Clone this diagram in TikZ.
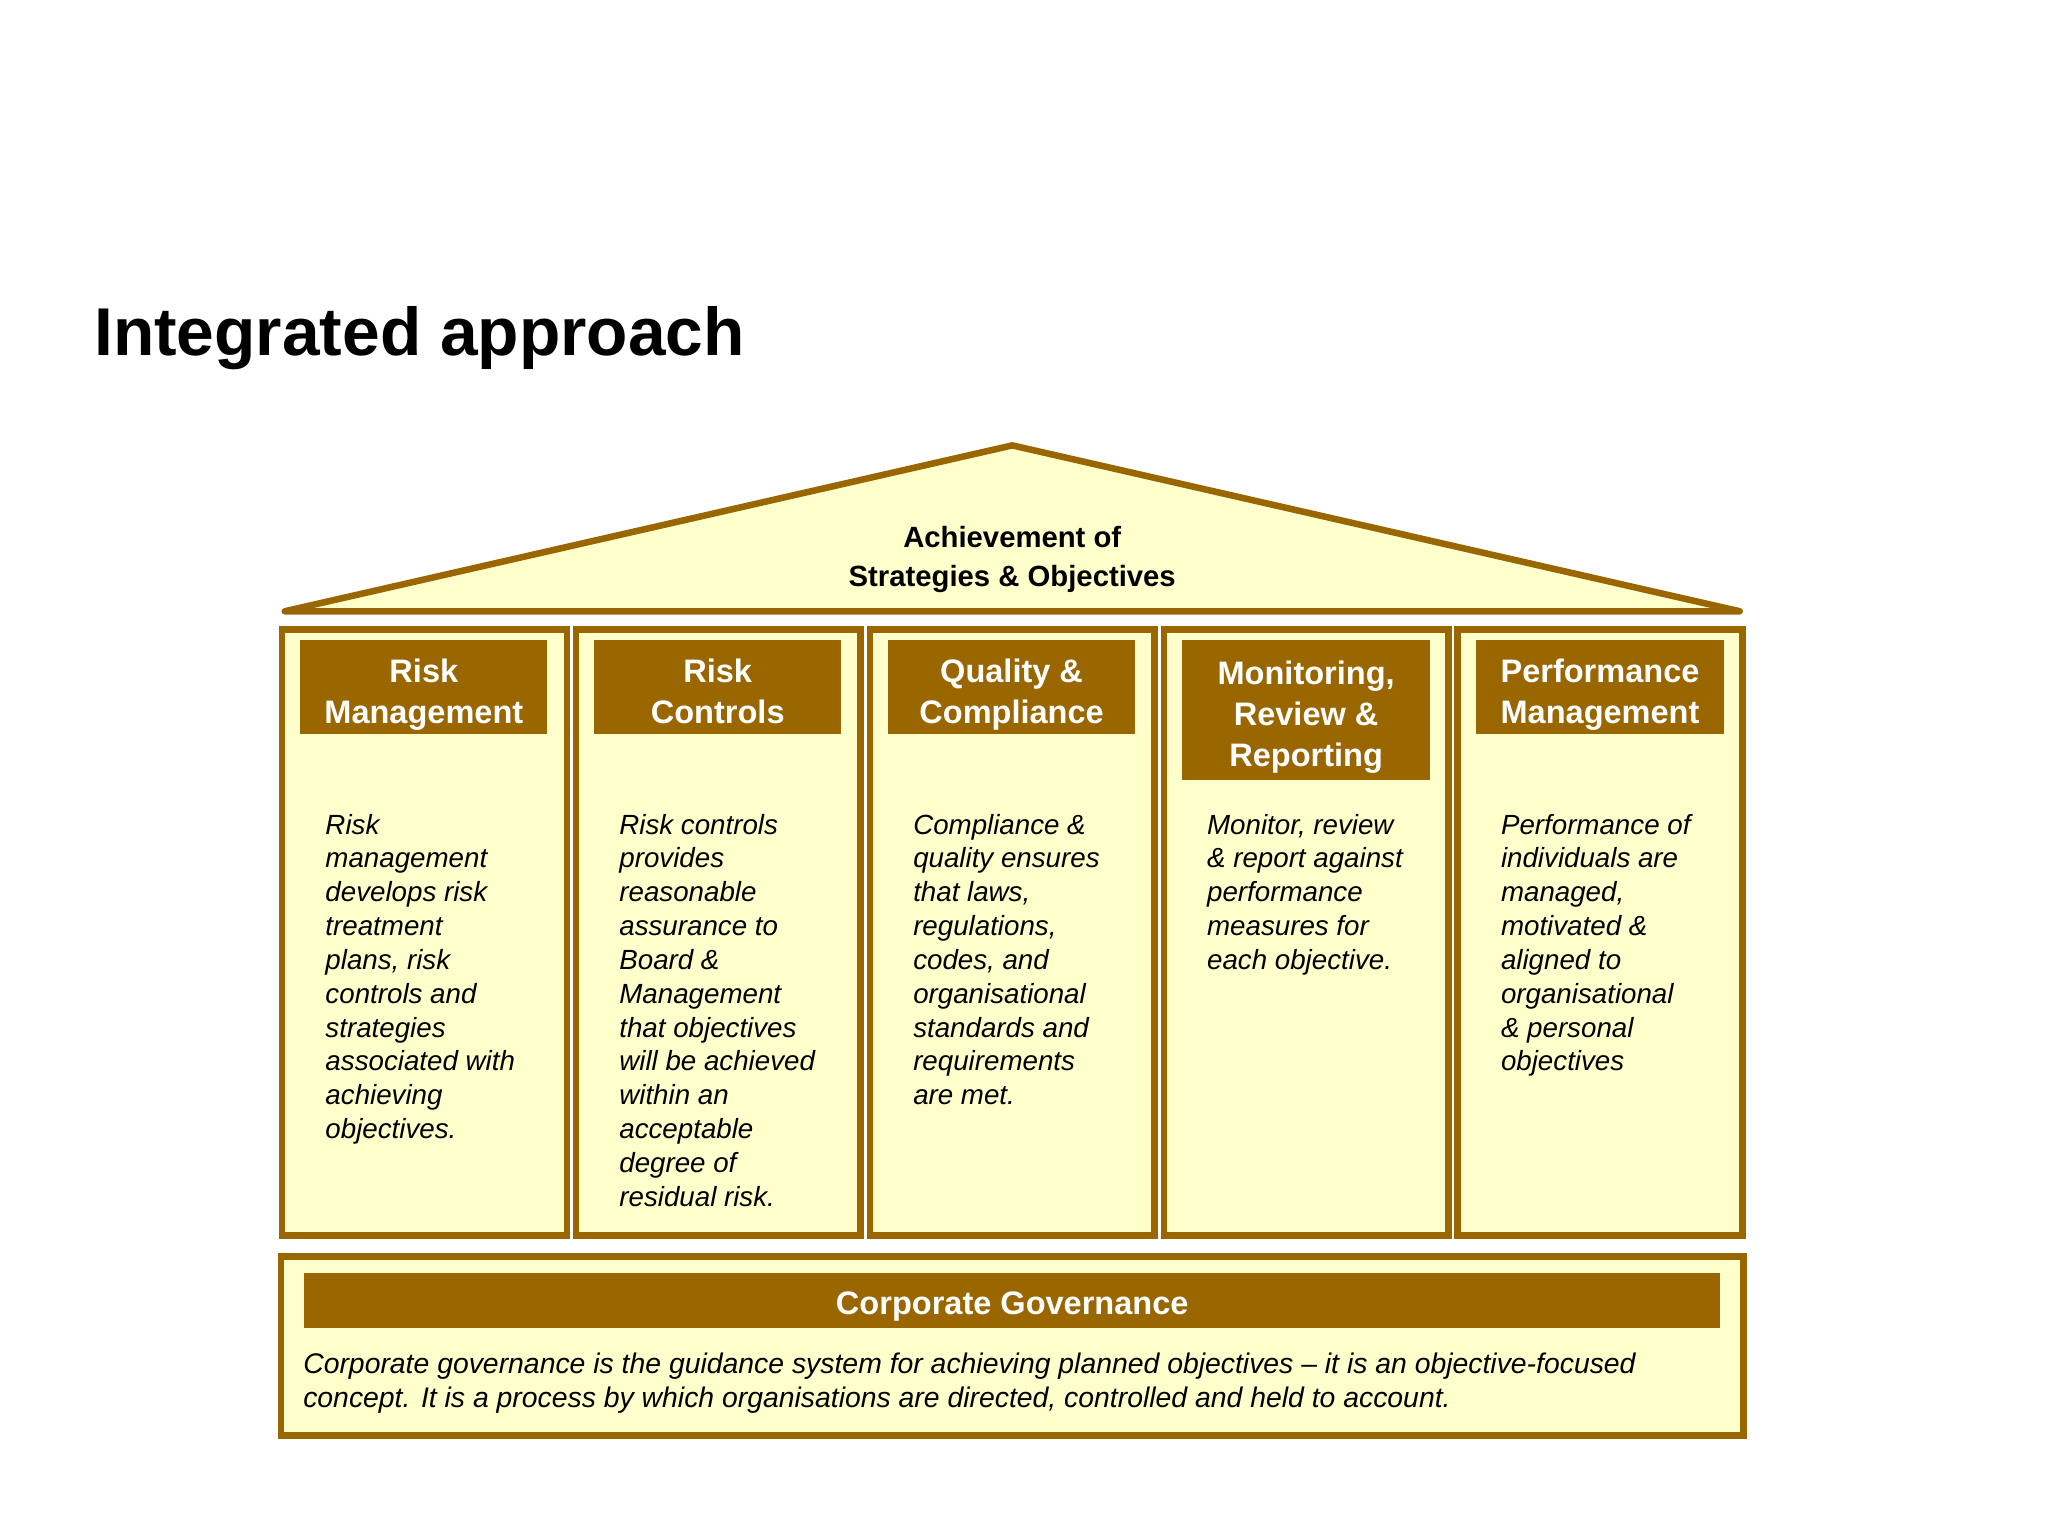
\documentclass[tikz,border=0pt]{standalone}
\usepackage{fontspec}
\setmainfont{Liberation Sans}
\definecolor{brn}{HTML}{996600}
\definecolor{lyel}{HTML}{FFFFCC}
\begin{document}
\begin{tikzpicture}[x=1bp,y=-1bp,
  col/.style={draw=brn,line width=5bp,fill=lyel},
  hdr/.style={fill=brn,draw=none,text=white,font=\fontsize{25}{31.5}\selectfont\bfseries,align=center,inner sep=0,text depth=0pt},
  body/.style={anchor=north west,align=left,font=\fontsize{21.3}{26}\selectfont\itshape,inner sep=0}]
\useasboundingbox (0,0) rectangle (1568,1176);
\node[anchor=base west,font=\fontsize{52}{60}\selectfont\bfseries,inner sep=0] (title) at (72,272) {Integrated approach};
\filldraw[col,line join=round] (218,468) -- (775,341) -- (1332,468) -- cycle;
\node[font=\fontsize{22.5}{30}\selectfont\bfseries,align=center] (roof) at (775,428) {Achievement of\\Strategies \& Objectives};
\foreach \i/\x in {1/216,2/441,3/666,4/891,5/1116}{
  \filldraw[col] (\x,482) rectangle ++(218,464);
}
\fill[brn] (230,490) rectangle (419,562) node[hdr,midway,yshift=-3bp] (h1) {Risk\\Management};
\fill[brn] (455,490) rectangle (644,562) node[hdr,midway,yshift=-3bp] (h2) {Risk\\Controls};
\fill[brn] (680,490) rectangle (869,562) node[hdr,midway,yshift=-3bp] (h3) {Quality \&\\Compliance};
\fill[brn] (905,490) rectangle (1095,597) node[hdr,midway,yshift=-3bp] (h4) {Monitoring,\\Review \&\\Reporting};
\fill[brn] (1130,490) rectangle (1320,562) node[hdr,midway,yshift=-3bp] (h5) {Performance\\Management};
\node[body] (b1) at (249,623) {Risk\\management\\develops risk\\treatment\\plans, risk\\controls and\\strategies\\associated with\\achieving\\objectives.};
\node[body] (b2) at (474,623) {Risk controls\\provides\\reasonable\\assurance to\\Board \&\\Management\\that objectives\\will be achieved\\within an\\acceptable\\degree of\\residual risk.};
\node[body] (b3) at (699,623) {Compliance \&\\quality ensures\\that laws,\\regulations,\\codes, and\\organisational\\standards and\\requirements\\are met.};
\node[body] (b4) at (924,623) {Monitor, review\\\& report against\\performance\\measures for\\each objective.};
\node[body] (b5) at (1149,623) {Performance of\\individuals are\\managed,\\motivated \&\\aligned to\\organisational\\\& personal\\objectives};
\filldraw[col] (215,962) rectangle (1335,1099);
\fill[brn] (233,975) rectangle (1317,1017) node[hdr,midway,yshift=-2bp] (cg) {Corporate Governance};
\node[body,font=\fontsize{21.8}{26}\selectfont\itshape] (cgt) at (232,1036) {Corporate governance is the guidance system for achieving planned objectives -- it is an objective-focused\\concept. It is a process by which organisations are directed, controlled and held to account.};
\end{tikzpicture}
\end{document}
